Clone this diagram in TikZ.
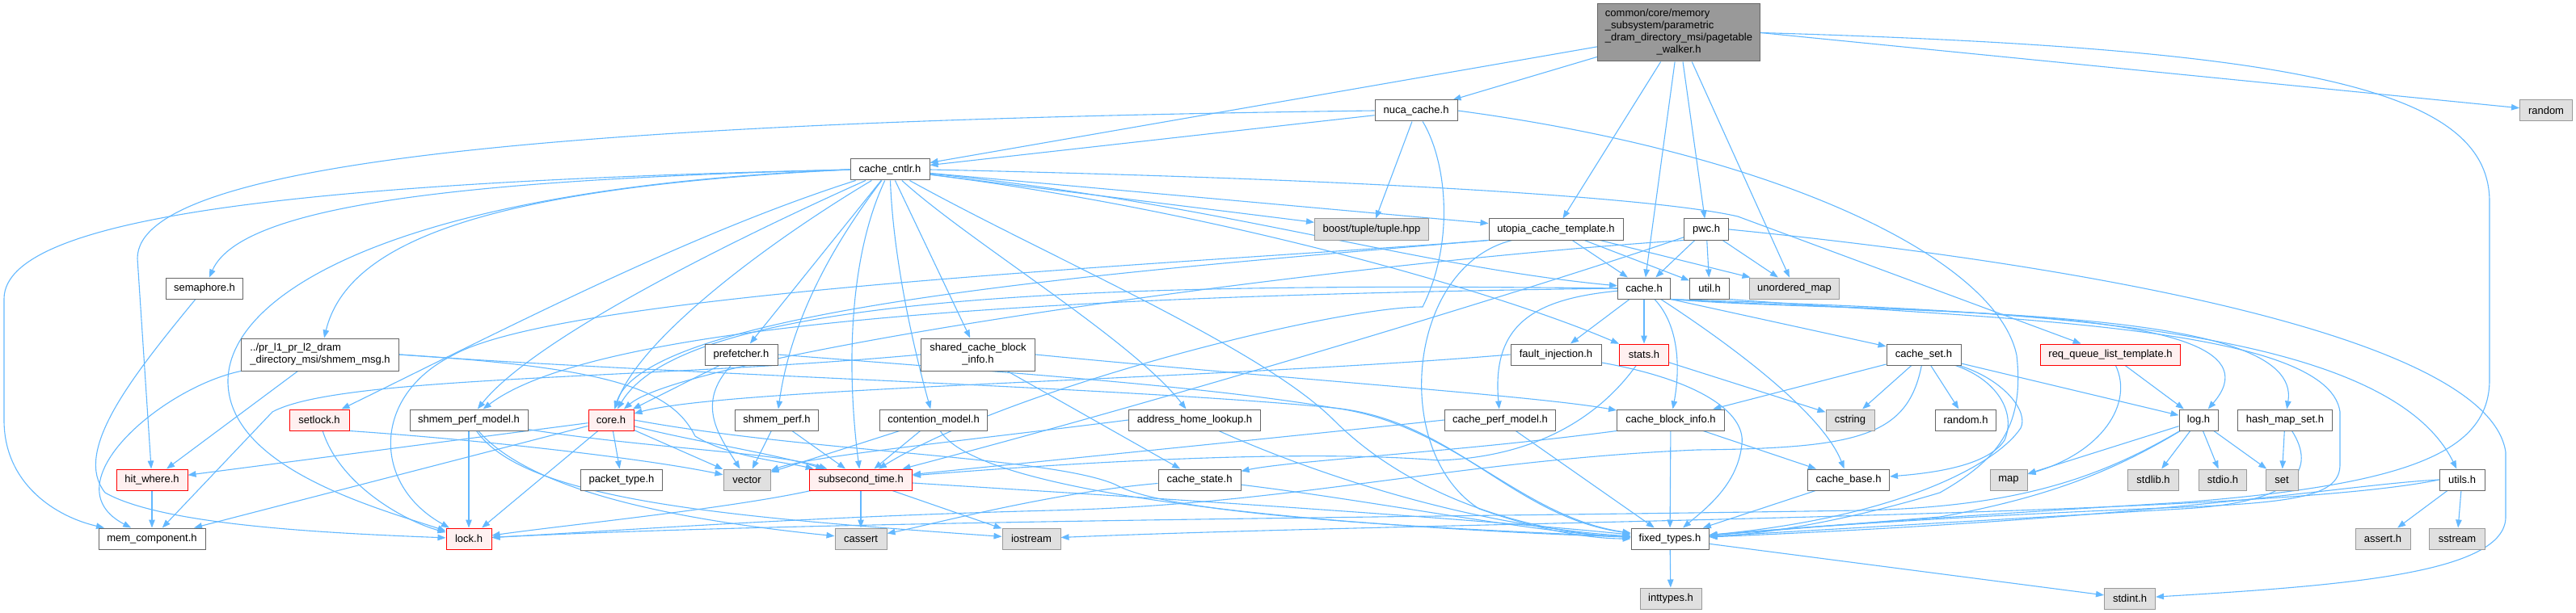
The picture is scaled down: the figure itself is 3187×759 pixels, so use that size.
\documentclass[tikz,border=0pt]{standalone}
\usepackage{fontspec}
\setmainfont{Liberation Sans}
\usetikzlibrary{arrows.meta}
\pgfdeclarelayer{bg}
\pgfsetlayers{bg,main}
\definecolor{edgec}{HTML}{63B8FF}
\definecolor{bordc}{HTML}{666666}
\definecolor{mainf}{HTML}{999999}
\definecolor{redf}{HTML}{FFF0F0}
\definecolor{extf}{HTML}{E0E0E0}
\definecolor{extb}{HTML}{999999}
\tikzset{
  nd/.style={draw=bordc, fill=white, line width=1pt, inner sep=0pt, minimum height=26pt, font=\fontsize{13}{15}\selectfont, text=black},
  rednd/.style={nd, draw=red, fill=redf},
  extnd/.style={nd, draw=extb, fill=extf},
  mainnd/.style={nd, fill=mainf},
  e/.style={draw=edgec, line width=1.1pt, -{Triangle[length=10pt,width=7.5pt]}},
}
\begin{document}
\begin{tikzpicture}[x=1pt,y=-1pt]
\useasboundingbox (0,0) rectangle (3187,759);
% ---------------- nodes
\node[mainnd, minimum width=201pt, minimum height=71pt] (M) at (2077,40.5) {\begin{tabular}{@{}l@{}}common/core/memory\\\_subsystem/parametric\\\_dram\_directory\_msi/pagetable\\\multicolumn{1}{@{}c@{}}{\_walker.h}\end{tabular}};
\node[nd, minimum width=102pt] (nuca) at (1752,137) {nuca\_cache.h};
\node[extnd, minimum width=65pt] (rnd) at (3150,137) {random};
\node[nd, minimum width=98pt] (cntlr) at (1101,210) {cache\_cntlr.h};
\node[extnd, minimum width=141pt] (boost) at (1697,284) {boost/tuple/tuple.hpp};
\node[nd, minimum width=166pt] (utopia) at (1925,284) {utopia\_cache\_template.h};
\node[nd, minimum width=55pt] (pwc) at (2111,284) {pwc.h};
\node[nd, minimum width=65pt] (cacheh) at (2034,357) {cache.h};
\node[nd, minimum width=49pt] (util) at (2115,357) {util.h};
\node[extnd, minimum width=111pt] (umap) at (2220,357) {unordered\_map};
\node[nd, minimum width=95pt] (sem) at (253,357) {semaphore.h};
\node[nd, minimum width=195pt, minimum height=40pt] (msg) at (396,439) {\begin{tabular}{@{}l@{}}../pr\_l1\_pr\_l2\_dram\\\_directory\_msi/shmem\_msg.h\end{tabular}};
\node[nd, minimum width=90pt] (pref) at (917,439) {prefetcher.h};
\node[nd, minimum width=141pt, minimum height=40pt] (scbi) at (1210,439) {\begin{tabular}{@{}c@{}}shared\_cache\_block\\\_info.h\end{tabular}};
\node[nd, minimum width=112pt] (fault) at (1925,439) {fault\_injection.h};
\node[rednd, minimum width=61pt] (stats) at (2034,439) {stats.h};
\node[nd, minimum width=92pt] (cset) at (2380,439) {cache\_set.h};
\node[rednd, minimum width=173pt] (rq) at (2611,439) {req\_queue\_list\_template.h};
\node[rednd, minimum width=74pt] (setlock) at (395,520) {setlock.h};
\node[nd, minimum width=146pt] (spm) at (580,520) {shmem\_perf\_model.h};
\node[rednd, minimum width=56pt] (core) at (756,520) {core.h};
\node[nd, minimum width=103pt] (sperf) at (961,520) {shmem\_perf.h};
\node[nd, minimum width=133pt] (cont) at (1155,520) {contention\_model.h};
\node[nd, minimum width=163pt] (ahl) at (1478,520) {address\_home\_lookup.h};
\node[nd, minimum width=137pt] (cpm) at (1856,520) {cache\_perf\_model.h};
\node[nd, minimum width=133pt] (cbi) at (2067,520) {cache\_block\_info.h};
\node[extnd, minimum width=60pt] (cstring) at (2289,520) {cstring};
\node[nd, minimum width=75pt] (randh) at (2432,520) {random.h};
\node[nd, minimum width=48pt] (log) at (2720,520) {log.h};
\node[nd, minimum width=117pt] (hms) at (2827,520) {hash\_map\_set.h};
\node[rednd, minimum width=88pt] (hit) at (188,594) {hit\_where.h};
\node[nd, minimum width=101pt] (pkt) at (769,594) {packet\_type.h};
\node[extnd, minimum width=58pt] (vec) at (924,594) {vector};
\node[rednd, minimum width=127pt] (sub) at (1065,594) {subsecond\_time.h};
\node[nd, minimum width=102pt] (cstate) at (1484,594) {cache\_state.h};
\node[nd, minimum width=101pt] (cbase) at (2287,594) {cache\_base.h};
\node[extnd, minimum width=46pt] (map) at (2485,594) {map};
\node[extnd, minimum width=63pt] (stdlib) at (2664,594) {stdlib.h};
\node[extnd, minimum width=59pt] (stdio) at (2750,594) {stdio.h};
\node[extnd, minimum width=40pt] (set) at (2823,594) {set};
\node[nd, minimum width=56pt] (utils) at (3046,594) {utils.h};
\node[nd, minimum width=132pt] (mem) at (188,667) {mem\_component.h};
\node[rednd, minimum width=56pt] (lock) at (580,667) {lock.h};
\node[extnd, minimum width=64pt] (cassert) at (1065,667) {cassert};
\node[extnd, minimum width=72pt] (iostream) at (1276,667) {iostream};
\node[nd, minimum width=96pt] (fixed) at (2066,667) {fixed\_types.h};
\node[extnd, minimum width=68pt] (asserth) at (2948,667) {assert.h};
\node[extnd, minimum width=69pt] (sstream) at (3040,667) {sstream};
\node[extnd, minimum width=76pt] (inttypes) at (2067,741) {inttypes.h};
\node[extnd, minimum width=63pt] (stdint) at (2635,741) {stdint.h};
% ---------------- edges
\begin{pgfonlayer}{bg}
% main
\draw[e] (M) -- (cntlr);
\draw[e] (M) -- (nuca);
\draw[e] (M) -- (utopia);
\draw[e] (M) -- (cacheh);
\draw[e] (M) -- (pwc);
\draw[e] (M) -- (umap);
\draw[e] (M.east) -- (rnd);
\draw[e] (M.east) .. controls (2850,60) and (3080,110) .. (3080,250) -- (3080,470) .. controls (3080,560) and (2980,600) .. (2700,622) .. controls (2400,640) and (2200,655) .. (fixed);
% nuca
\draw[e] (nuca) -- (cntlr);
\draw[e] (nuca.west) .. controls (700,150) and (170,200) .. (170,320) -- (hit);
\draw[e] (nuca) -- (boost);
\draw[e] (nuca) .. controls (1790,200) and (1800,300) .. (1760,380) .. controls (1650,380) and (1250,480) .. (sub);
\draw[e] (nuca.east) .. controls (2200,190) and (2470,320) .. (2495,440) .. controls (2505,530) and (2470,570) .. (2400,610) .. controls (2300,640) and (2200,660) .. (fixed);
% cache_cntlr
\draw[e] (cntlr.west) .. controls (600,222) and (300,250) .. (sem);
\draw[e] (cntlr.west) .. controls (400,225) and (5,265) .. (5,370) -- (5,520) .. controls (5,600) and (70,640) .. (mem);
\draw[e] (cntlr.west) .. controls (500,232) and (285,360) .. (282,470) .. controls (280,580) and (470,630) .. (lock);
\draw[e] (cntlr.west) .. controls (600,232) and (430,300) .. (msg);
\draw[e] (cntlr) .. controls (850,290) and (620,410) .. (setlock);
\draw[e] (cntlr) .. controls (900,300) and (660,420) .. (spm);
\draw[e] (cntlr) .. controls (950,300) and (790,420) .. (core);
\draw[e] (cntlr) -- (pref);
\draw[e] (cntlr) .. controls (1010,330) and (975,420) .. (sperf);
\draw[e] (cntlr) .. controls (1045,330) and (1050,480) .. (sub);
\draw[e] (cntlr) .. controls (1105,320) and (1130,430) .. (cont);
\draw[e] (cntlr) -- (scbi);
\draw[e] (cntlr) .. controls (1200,300) and (1400,420) .. (ahl);
\draw[e] (cntlr) .. controls (1300,320) and (1560,430) .. (1650,520) .. controls (1750,620) and (1900,660) .. (fixed);
\draw[e] (cntlr) -- (boost);
\draw[e] (cntlr) -- (utopia);
\draw[e] (cntlr) .. controls (1500,250) and (1750,330) .. (cacheh);
\draw[e] (cntlr) .. controls (1500,260) and (1850,360) .. (stats);
\draw[e] (cntlr.east) .. controls (1700,222) and (2050,245) .. (2150,268) -- (rq);
% utopia
\draw[e] (utopia) -- (cacheh);
\draw[e] (utopia) -- (util);
\draw[e] (utopia) -- (umap);
\draw[e] (utopia) .. controls (1740,330) and (1720,560) .. (1830,630) .. controls (1920,662) and (1980,667) .. (fixed);
\draw[e] (utopia.south west) .. controls (1500,325) and (700,360) .. (560,440) .. controls (460,490) and (460,600) .. (lock);
\draw[e] (utopia.south west) .. controls (1400,335) and (800,380) .. (core);
% pwc
\draw[e] (pwc) -- (cacheh);
\draw[e] (pwc) -- (util);
\draw[e] (pwc) -- (umap);
\draw[e] (pwc.east) .. controls (2600,330) and (3080,420) .. (3100,560) -- (3100,640) .. controls (3100,710) and (2900,725) .. (stdint);
\draw[e] (pwc.south west) .. controls (1600,330) and (850,440) .. (core);
\draw[e] (pwc) .. controls (1950,340) and (1500,480) .. (sub);
% cache.h
\draw[e] (cacheh) -- (fault);
\draw[e] (cacheh) -- (stats);
\draw[e] (cacheh.south east) -- (cset);
\draw[e] (cacheh) .. controls (1900,370) and (1845,400) .. (cpm);
\draw[e] (cacheh) .. controls (2075,400) and (2080,450) .. (cbi);
\draw[e] (cacheh) .. controls (2100,400) and (2250,500) .. (cbase);
\draw[e] (cacheh.south east) .. controls (2300,390) and (2850,370) .. (log);
\draw[e] (cacheh.south east) .. controls (2400,390) and (2850,380) .. (hms);
\draw[e] (cacheh.south east) .. controls (2500,385) and (2950,400) .. (utils);
\draw[e] (cacheh.west) .. controls (1400,350) and (850,360) .. (core);
\draw[e] (cacheh.west) .. controls (1400,365) and (750,390) .. (spm);
% util.h
\draw[e] (util.south east) .. controls (2450,395) and (2880,400) .. (2895,510) -- (2895,575) .. controls (2895,612) and (2850,622) .. (2700,628) .. controls (2400,640) and (2200,655) .. (fixed);
% shmem_msg
\draw[e] (msg) .. controls (200,480) and (60,600) .. (mem);
\draw[e] (msg) -- (hit);
\draw[e] (msg.east) .. controls (800,462) and (1400,480) .. (1650,505) .. controls (1800,520) and (1870,640) .. (fixed);
\draw[e] (msg.east) .. controls (750,455) and (830,480) .. (860,540) .. controls (900,565) and (970,572) .. (sub);
% prefetcher
\draw[e] (pref) .. controls (860,500) and (890,540) .. (vec);
\draw[e] (pref) -- (core);
\draw[e] (pref.east) .. controls (1300,465) and (1500,480) .. (1650,505) .. controls (1800,525) and (1880,640) .. (fixed);
% shared_cache_block_info
\draw[e] (scbi.west) .. controls (800,470) and (420,465) .. (337,510) -- (mem);
\draw[e] (scbi.east) .. controls (1600,470) and (1900,490) .. (cbi);
\draw[e] (scbi) -- (cstate);
% fault_injection
\draw[e] (fault.west) .. controls (1500,470) and (900,480) .. (core);
\draw[e] (fault) .. controls (2100,470) and (2160,510) .. (2155,550) .. controls (2150,600) and (2110,630) .. (fixed);
% stats
\draw[e] (stats) -- (cstring);
\draw[e] (stats) .. controls (1990,500) and (1920,565) .. (1780,570) .. controls (1600,555) and (1300,575) .. (sub);
% cache_set
\draw[e] (cset) -- (cbi);
\draw[e] (cset) -- (cstring);
\draw[e] (cset) -- (randh);
\draw[e] (cset) -- (log);
\draw[e] (cset) .. controls (2470,470) and (2495,510) .. (2480,545) .. controls (2460,575) and (2400,585) .. (cbase);
\draw[e] (cset) .. controls (2360,540) and (2300,555) .. (2100,557) .. controls (1800,570) and (1600,625) .. (1300,632) .. controls (1000,640) and (800,655) .. (lock);
\draw[e] (cset) .. controls (2480,470) and (2510,510) .. (2500,530) .. controls (2470,575) and (2350,640) .. (fixed);
% req_queue
\draw[e] (rq) -- (log);
\draw[e] (rq) .. controls (2640,500) and (2600,560) .. (map);
% log
\draw[e] (log) -- (map);
\draw[e] (log) -- (stdlib);
\draw[e] (log) -- (stdio);
\draw[e] (log) -- (set);
\draw[e] (log) .. controls (2620,580) and (2540,615) .. (2400,640) -- (fixed);
\draw[e] (log) .. controls (2600,590) and (2500,628) .. (2300,632) .. controls (1800,640) and (1000,645) .. (lock);
% hash_map_set
\draw[e] (hms) -- (set);
\draw[e] (hms) .. controls (2865,580) and (2845,622) .. (2700,630) -- (fixed);
% utils
\draw[e] (utils) -- (asserth);
\draw[e] (utils) -- (sstream);
\draw[e] (utils.west) .. controls (2900,600) and (2700,640) .. (fixed);
\draw[e] (utils.west) .. controls (2800,640) and (1800,645) .. (iostream);
% setlock
\draw[e] (setlock) .. controls (420,600) and (500,645) .. (lock);
\draw[e] (setlock.south east) .. controls (600,545) and (800,568) .. (vec);
% shmem_perf_model
\draw[e] (spm) -- (lock);
\draw[e] (spm) .. controls (800,555) and (960,560) .. (sub);
\draw[e] (spm) .. controls (650,600) and (800,640) .. (cassert);
\draw[e] (spm) .. controls (650,620) and (900,640) .. (iostream);
% core
\draw[e] (core) -- (hit);
\draw[e] (core) -- (mem);
\draw[e] (core) -- (lock);
\draw[e] (core) -- (pkt);
\draw[e] (core) -- (vec);
\draw[e] (core) .. controls (850,545) and (950,560) .. (sub);
\draw[e] (core.east) .. controls (1000,560) and (1300,565) .. (1380,600) .. controls (1450,640) and (1800,655) .. (fixed);
% shmem_perf
\draw[e] (sperf) -- (vec);
\draw[e] (sperf) -- (sub);
% contention_model
\draw[e] (cont) -- (vec);
\draw[e] (cont) -- (sub);
\draw[e] (cont) .. controls (1210,610) and (1600,650) .. (fixed);
% address_home_lookup
\draw[e] (ahl) .. controls (1600,575) and (1800,650) .. (fixed);
\draw[e] (ahl.west) .. controls (1200,545) and (1000,565) .. (vec);
% cache_perf_model
\draw[e] (cpm) -- (fixed);
\draw[e] (cpm.west) .. controls (1600,540) and (1300,570) .. (sub);
% cache_block_info
\draw[e] (cbi) -- (fixed);
\draw[e] (cbi) -- (cbase);
\draw[e] (cbi.south west) .. controls (1800,560) and (1600,570) .. (cstate);
% cache_state
\draw[e] (cstate) .. controls (1300,610) and (1150,650) .. (cassert);
\draw[e] (cstate) .. controls (1700,620) and (1900,660) .. (fixed);
% cache_base
\draw[e] (cbase) -- (fixed);
% subsecond_time
\draw[e] (sub) -- (cassert);
\draw[e] (sub) -- (iostream);
\draw[e] (sub) .. controls (1400,615) and (1800,640) .. (fixed);
\draw[e] (sub) .. controls (900,630) and (700,650) .. (lock);
% others
\draw[e] (hit) -- (mem);
\draw[e] (sem) .. controls (160,470) and (90,560) .. (130,610) .. controls (200,650) and (400,660) .. (lock);
\draw[e] (fixed) -- (inttypes);
\draw[e] (fixed) -- (stdint);
\end{pgfonlayer}
\end{tikzpicture}
\end{document}
